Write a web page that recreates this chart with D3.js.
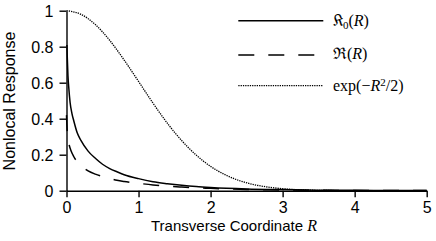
<!DOCTYPE html>
<html><head><meta charset="utf-8">
<script src="https://cdn.jsdelivr.net/npm/d3@7"></script>
<style>body{margin:0;background:#fff}svg{display:block}</style>
</head><body>
<svg id="c" width="436" height="241"></svg>
<script>
// Data
const xTicks = [0, 1, 2, 3, 4, 5];
const yTicks = [0, 0.2, 0.4, 0.6, 0.8, 1];
const yTickLabels = ["0", "0.2", "0.4", "0.6", "0.8", "1"];

const kR = [0.006,0.01,0.02,0.03,0.05,0.075,0.1,0.15,0.2,0.3,0.4,0.5,0.6,0.7,0.8,1.0,1.2,1.4,1.6,1.8,2.0,2.5,3.0,3.5,4.0,4.5,5.0];
const kV = [0.81,0.75,0.64,0.58,0.49,0.43,0.39,0.32,0.28,0.22,0.18,0.147,0.123,0.105,0.089,0.067,0.05,0.039,0.030,0.023,0.018,0.010,0.006,0.003,0.002,0.001,0.0006];

const rR = [0,0.005,0.01,0.02,0.04,0.06,0.1,0.15,0.2,0.3,0.4,0.5,0.6,0.7,0.8,1.0,1.2,1.4,1.6,1.8,2.0,2.5,3.0,3.5,4.0,5.0];
const rV = [0.42,0.37,0.33,0.29,0.25,0.225,0.19,0.16,0.14,0.11,0.092,0.079,0.068,0.058,0.051,0.041,0.032,0.025,0.020,0.016,0.013,0.007,0.004,0.002,0.001,0.0005];

const eR = [0,0.2,0.4,0.6,0.8,1.0,1.2,1.4,1.6,1.8,2.0,2.2,2.4,2.6,2.8,3.0,3.3,3.6,4.0,4.5,5.0];
const eV = [1.0,0.98,0.923,0.835,0.726,0.607,0.487,0.375,0.278,0.198,0.135,0.089,0.056,0.034,0.020,0.011,0.004,0.0015,0.0003,0,0];

const svg = d3.select("#c");
const x = d3.scaleLinear().domain([0, 5]).range([66.5, 426.7]);
const y = d3.scaleLinear().domain([0, 1]).range([190.7, 10.7]);

const sans = "'Liberation Sans', Arial, sans-serif";
const serif = "'Liberation Serif', 'Times New Roman', serif";

// axes
const gx = svg.append("g").attr("transform", `translate(0,${y(0)})`)
  .call(d3.axisBottom(x).tickValues(xTicks).tickFormat(d3.format("d")).tickSize(6.5).tickSizeOuter(0).tickPadding(4));
const gy = svg.append("g").attr("transform", `translate(${x(0)},0)`)
  .call(d3.axisLeft(y).tickValues(yTicks).tickFormat((d,i) => yTickLabels[i]).tickSize(7).tickSizeOuter(0).tickPadding(6));
[gx, gy].forEach(g => {
  g.selectAll("path,line").attr("stroke", "#000").attr("stroke-width", 1.4);
  g.selectAll("text").attr("fill", "#000").style("font-family", sans).style("font-size", "16px");
});
gy.selectAll("text").attr("dy", "0.35em");

// curves
const mk = (xs, vs) => xs.map((r, i) => [r, vs[i]]);
const line = d3.line().x(d => x(d[0])).y(d => y(d[1])).curve(d3.curveMonotoneX);

svg.append("path").datum(mk(eR, eV)).attr("d", line)
  .attr("fill", "none").attr("stroke", "#000").attr("stroke-width", 1.3).attr("stroke-dasharray", "1.3,1");
svg.append("path").datum(mk(rR, rV)).attr("d", line)
  .attr("fill", "none").attr("stroke", "#000").attr("stroke-width", 1.5).attr("stroke-dasharray", "16,14");
svg.append("path").datum(mk(kR, kV)).attr("d", line)
  .attr("fill", "none").attr("stroke", "#000").attr("stroke-width", 1.5);

// legend
const leg = svg.append("g");
const rows = [
  {y: 20.7, dash: null, w: 1.5},
  {y: 55, dash: "16,14", w: 1.5},
  {y: 85.7, dash: "1.3,1", w: 1.3}
];
rows.forEach(r => {
  leg.append("line").attr("x1", 238.3).attr("x2", 323.3).attr("y1", r.y).attr("y2", r.y)
    .attr("stroke", "#000").attr("stroke-width", r.w).attr("stroke-dasharray", r.dash);
});
const t1 = leg.append("text").attr("x", 333).attr("y", rows[0].y + 5).style("font-family", serif).style("font-size", "16px");
t1.append("tspan").text("\u{1D50E}");
t1.append("tspan").attr("dy", 3).style("font-size", "11px").text("0");
t1.append("tspan").attr("dy", -3).text("(");
t1.append("tspan").style("font-style", "italic").text("R");
t1.append("tspan").text(")");

const t2 = leg.append("text").attr("x", 333).attr("y", rows[1].y + 4).style("font-family", serif).style("font-size", "16px");
t2.append("tspan").text("\u211C(");
t2.append("tspan").style("font-style", "italic").text("R");
t2.append("tspan").text(")");

const t3 = leg.append("text").attr("x", 333).attr("y", rows[2].y + 5).style("font-family", serif).style("font-size", "16px");
t3.append("tspan").text("exp(\u2212");
t3.append("tspan").style("font-style", "italic").text("R");
t3.append("tspan").attr("dy", -5).style("font-size", "11px").text("2");
t3.append("tspan").attr("dy", 5).text("/2)");

// axis titles
const xt = svg.append("text").attr("x", 234).attr("y", 231).attr("text-anchor", "middle")
  .style("font-family", sans).style("font-size", "15px").attr("fill", "#000");
xt.append("tspan").text("Transverse Coordinate ");
xt.append("tspan").style("font-family", serif).style("font-style", "italic").style("font-size", "16px").text("R");

svg.append("text").attr("transform", "translate(9,101) rotate(-90)").attr("text-anchor", "middle")
  .attr("dominant-baseline", "central")
  .style("font-family", sans).style("font-size", "16px").attr("fill", "#000").text("Nonlocal Response");
</script>
</body></html>
